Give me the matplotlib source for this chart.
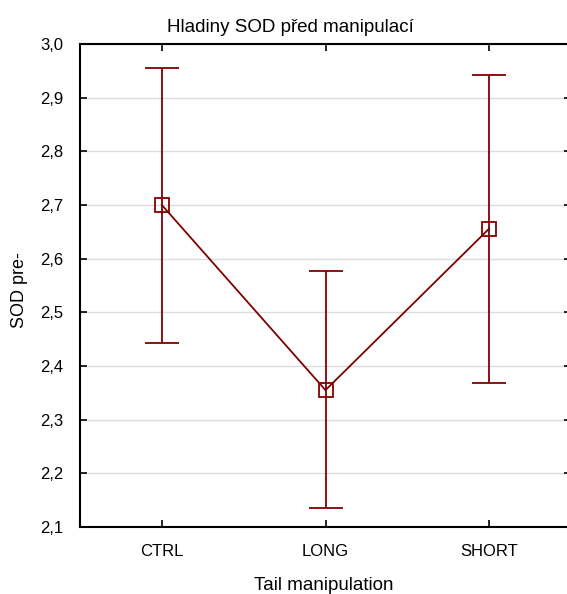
import numpy as np
import matplotlib
matplotlib.use("Agg")
from matplotlib import pyplot as plt
from matplotlib.ticker import FuncFormatter

plt.rcParams['font.family'] = ['Liberation Sans', 'DejaVu Sans']

groups = ["CTRL", "LONG", "SHORT"]
means = [2.700, 2.355, 2.656]
upper = [2.956, 2.577, 2.943]
lower = [2.443, 2.135, 2.368]

red = "#800000"

fig = plt.figure(figsize=(5.67, 5.94), dpi=100)
ax = fig.add_axes([80 / 567, 67 / 594, 491 / 567, 483 / 594])

x = np.arange(len(groups))
m = np.array(means)
err = [m - np.array(lower), np.array(upper) - m]

ax.errorbar(x, m, yerr=err, color=red, lw=1.3, capsize=12, capthick=1.3,
            marker="s", ms=9.5, mfc="none", mec=red, mew=1.3, zorder=3)

ax.set_xlim(-0.5, 2.5)
ax.set_ylim(2.1, 3.0)
ax.set_yticks(np.arange(2.1, 3.01, 0.1))
ax.yaxis.set_major_formatter(FuncFormatter(lambda v, p: f"{v:.1f}".replace(".", ",")))
ax.set_xticks(x)
ax.set_xticklabels(groups)

ax.grid(axis="y", color="#dcdcdc", lw=1)
ax.set_axisbelow(True)
ax.tick_params(direction="in", length=5, width=1.2, top=True, right=True,
               labelsize=12)
ax.tick_params(axis="y", pad=12)
ax.tick_params(axis="x", pad=12)
for s in ax.spines.values():
    s.set_linewidth(1.5)
# right edge of the box falls outside the picture in the original
ax.spines["right"].set_visible(False)

fig.text(290 / 567, 1 - 27 / 594, "Hladiny SOD před manipulací",
         ha="center", va="center", fontsize=13.5)
fig.text(324 / 567, 1 - 585 / 594, "Tail manipulation",
         ha="center", va="center", fontsize=13.5)
fig.text(19 / 567, 1 - 290 / 594, "SOD pre-", rotation=90,
         ha="center", va="center", fontsize=13)

fig.savefig("out.png", dpi=100)
